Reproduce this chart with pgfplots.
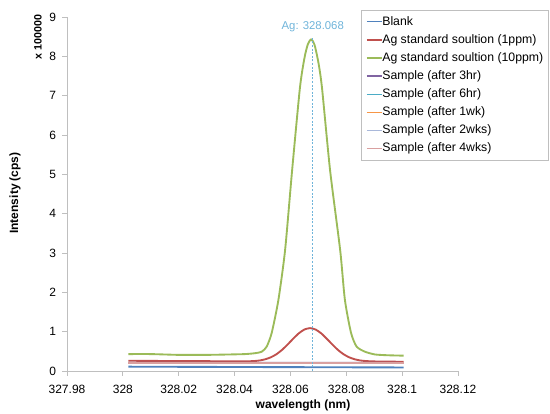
\documentclass[border=0pt]{standalone}
\usepackage{fontspec}
\setmainfont{Liberation Sans}
\usepackage{pgfplots}
\pgfplotsset{compat=1.18}

\definecolor{cBlank}{HTML}{4F81BD}
\definecolor{cOne}{HTML}{C0504D}
\definecolor{cTen}{HTML}{9BBB59}
\definecolor{cThree}{HTML}{8064A2}
\definecolor{cSix}{HTML}{4BACC6}
\definecolor{cWeek}{HTML}{F79646}
\definecolor{cTwo}{HTML}{A9B8DA}
\definecolor{cFour}{HTML}{D9A0A0}
\definecolor{cMark}{HTML}{6FB4DA}
\definecolor{axgray}{HTML}{BFBFBF}

\begin{document}
\begin{tikzpicture}
\path[use as bounding box] (0,0) rectangle (412.5pt,310.5pt);
\begin{axis}[
    at={(50.25pt,32.25pt)}, anchor=south west,
    scale only axis,
    width=293.25pt, height=265.5pt,
    xmin=327.98, xmax=328.12,
    ymin=0, ymax=9,
    axis lines=left,
    axis line style={-, draw=axgray, line width=0.6pt},
    tick style={draw=axgray, line width=0.6pt},
    tick align=outside,
    major tick length=3.75pt,
    xtick={327.98,328,328.02,328.04,328.06,328.08,328.1,328.12},
    xticklabels={327.98,328,328.02,328.04,328.06,328.08,328.1,328.12},
    ytick={0,1,...,9},
    scaled x ticks=false,
    /pgf/number format/assume math mode=true,
    ticklabel style={font=\fontsize{9}{10}\selectfont},
    xticklabel style={yshift=-3pt},
    yticklabel style={xshift=-1pt},
    clip=false,
    legend cell align=left,
    legend style={at={(1.2327,1.0198)}, anchor=north east,
        draw=axgray, line width=0.6pt,
        font=\fontsize{9.2}{10}\selectfont,
        inner xsep=4pt, inner ysep=4pt,
        row sep=4.6pt,
        nodes={inner sep=0pt, text height=7pt, text depth=2pt}},
    legend image code/.code={\draw[#1, line width=1pt] (0pt,0pt) -- (11pt,0pt);},
    every axis plot/.append style={line width=1.4pt},
]
% Blank
\addplot[cBlank] coordinates {(328.002,0.11) (328.05,0.10) (328.1005,0.09)};
% Ag 1 ppm
\addplot[cOne, smooth, tension=0.4] coordinates {
(328.002,0.26) (328.015,0.255) (328.03,0.25) (328.043,0.246) (328.047,0.253)
(328.049,0.268) (328.051,0.298) (328.053,0.349) (328.055,0.427) (328.057,0.537)
(328.059,0.674) (328.061,0.822) (328.063,0.958) (328.065,1.055) (328.067,1.09)
(328.069,1.055) (328.071,0.958) (328.073,0.822) (328.075,0.674) (328.077,0.537)
(328.079,0.427) (328.081,0.349) (328.083,0.298) (328.085,0.268) (328.087,0.253)
(328.091,0.242) (328.1005,0.235)};
% Ag 10 ppm
\addplot[cTen, smooth, tension=0.4] coordinates {
(328.002,0.43) (328.010,0.43) (328.020,0.41) (328.030,0.41) (328.038,0.42)
(328.0437,0.43) (328.047,0.45) (328.0497,0.49) (328.0515,0.62) (328.0533,0.97)
(328.0557,1.81) (328.0581,3.08) (328.0606,5.1) (328.0634,7.2) (328.065,7.95)
(328.0662,8.3) (328.0674,8.43) (328.0686,8.3) (328.070,7.85) (328.0713,7.2)
(328.0742,5.1) (328.0778,3.08) (328.0795,1.81) (328.0817,0.97) (328.0837,0.62)
(328.0867,0.49) (328.0903,0.42) (328.095,0.40) (328.1005,0.39)};
% samples
\addplot[cThree] coordinates {(328.002,0.21) (328.1005,0.205)};
\addplot[cSix] coordinates {(328.002,0.2) (328.1005,0.2)};
\addplot[cWeek] coordinates {(328.002,0.2) (328.1005,0.2)};
\addplot[cTwo] coordinates {(328.002,0.2) (328.1005,0.2)};
\addplot[cFour] coordinates {(328.002,0.2) (328.1005,0.2)};
\legend{Blank, Ag standard soultion (1ppm), Ag standard soultion (10ppm),
  Sample (after 3hr), Sample (after 6hr), Sample (after 1wk),
  Sample (after 2wks), Sample (after 4wks)}
% peak marker
\addplot[cMark, line width=0.8pt, dash pattern=on 1.5pt off 1.2pt, forget plot]
  coordinates {(328.068,0) (328.068,8.5)};
\node[text=cMark, anchor=south, font=\fontsize{8.5}{10}\selectfont, inner sep=1pt]
  at (axis cs:328.068,8.58) {Ag: 328.068};
\end{axis}
\node[font=\bfseries\fontsize{9}{10}\selectfont, rotate=90] at (11.25pt,165.75pt) {Intensity (cps)};
\node[font=\bfseries\fontsize{8}{9}\selectfont, rotate=90] at (28.5pt,282.75pt) {x 100000};
\node[font=\bfseries\fontsize{9}{10}\selectfont] at (227.25pt,6.75pt) {wavelength (nm)};
\end{tikzpicture}
\end{document}
